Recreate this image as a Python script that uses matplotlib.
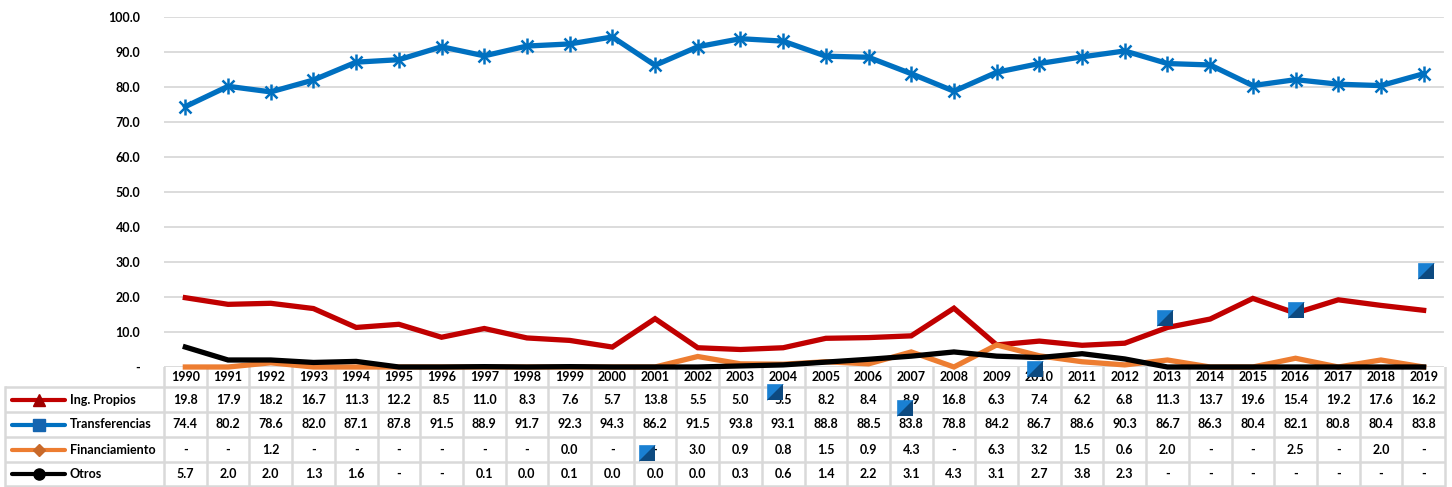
import matplotlib.pyplot as plt

plt.rcParams["font.family"] = ["Lato", "DejaVu Sans"]
plt.rcParams["font.weight"] = "bold"

years = list(range(1990, 2020))

ing_propios = [19.8, 17.9, 18.2, 16.7, 11.3, 12.2, 8.5, 11.0, 8.3, 7.6,
               5.7, 13.8, 5.5, 5.0, 5.5, 8.2, 8.4, 8.9, 16.8, 6.3,
               7.4, 6.2, 6.8, 11.3, 13.7, 19.6, 15.4, 19.2, 17.6, 16.2]
transferencias = [74.4, 80.2, 78.6, 82.0, 87.1, 87.8, 91.5, 88.9, 91.7, 92.3,
                  94.3, 86.2, 91.5, 93.8, 93.1, 88.8, 88.5, 83.8, 78.8, 84.2,
                  86.7, 88.6, 90.3, 86.7, 86.3, 80.4, 82.1, 80.8, 80.4, 83.8]
financiamiento = [None, None, 1.2, None, None, None, None, None, None, 0.0,
                  None, None, 3.0, 0.9, 0.8, 1.5, 0.9, 4.3, None, 6.3,
                  3.2, 1.5, 0.6, 2.0, None, None, 2.5, None, 2.0, None]
otros = [5.7, 2.0, 2.0, 1.3, 1.6, None, None, 0.1, 0.0, 0.1,
         0.0, 0.0, 0.0, 0.3, 0.6, 1.4, 2.2, 3.1, 4.3, 3.1,
         2.7, 3.8, 2.3, None, None, None, None, None, None, None]

series_names = ["Ing. Propios", "Transferencias", "Financiamiento", "Otros"]
series_values = [ing_propios, transferencias, financiamiento, otros]
series_colors = ["#c00000", "#0070c0", "#ed7d31", "#000000"]
legend_markers = ["^", "s", "D", "o"]
legend_marker_colors = ["#a00000", "#1565b0", "#c8692a", "#000000"]

y_ticks = [0, 10, 20, 30, 40, 50, 60, 70, 80, 90, 100]
y_tick_labels = ["-"] + [f"{v:.1f}" for v in y_ticks[1:]]

# stray square glyphs that appear in the source chart (year, value)
stray_x = [2003.8, 2006.85, 2000.8, 2009.9, 2012.95, 2016.0, 2019.05]
stray_y = [-7.1, -11.7, -24.6, -0.6, 14.0, 16.3, 27.4]

W, H = 1452, 487
plot_left, plot_right = 164, 1445
plot_top, plot_bottom = 17, 367
col_w = (plot_right - plot_left) / len(years)
grid_color = "#d9d9d9"
fs = 9

fig = plt.figure(figsize=(W / 100, H / 100), dpi=100)

# ---- table (pixel coordinates) ----
ax_t = fig.add_axes([0, 0, 1, (H - plot_bottom) / H], zorder=1)
ax_t.set_xlim(0, W)
ax_t.set_ylim(H, plot_bottom)
ax_t.axis("off")

row_edges = [387, 412, 437, 462, 486]
for y in row_edges:
    ax_t.plot([5, plot_right], [y, y], color=grid_color, lw=1.8, solid_capstyle="butt")
ax_t.plot([5, 5], [row_edges[0], row_edges[-1]], color=grid_color, lw=1.8)
for i in range(len(years) + 1):
    x = plot_left + i * col_w
    ax_t.plot([x, x], [plot_bottom, row_edges[-1]], color=grid_color, lw=1.8)

for i, yr in enumerate(years):
    cx = plot_left + (i + 0.5) * col_w
    ax_t.text(cx, 377, str(yr), ha="center", va="center", fontsize=fs)
    for r, vals in enumerate(series_values):
        v = vals[i]
        cy = (row_edges[r] + row_edges[r + 1]) / 2
        ax_t.text(cx, cy, "-" if v is None else f"{v:.1f}",
                  ha="center", va="center", fontsize=fs)

for r, name in enumerate(series_names):
    cy = (row_edges[r] + row_edges[r + 1]) / 2
    ax_t.plot([12, 65], [cy, cy], color=series_colors[r], lw=3, solid_capstyle="round")
    ax_t.plot([39], [cy], marker=legend_markers[r], color=legend_marker_colors[r],
              markersize=8 if legend_markers[r] != "D" else 6)
    ax_t.text(70, cy, name, ha="left", va="center", fontsize=fs)

# ---- line chart ----
ax = fig.add_axes([plot_left / W, 1 - plot_bottom / H,
                   (plot_right - plot_left) / W, (plot_bottom - plot_top) / H], zorder=2)
ax.patch.set_visible(False)
ax.set_xlim(1989.5, 2019.5)
ax.set_ylim(0, 100)

for y in y_ticks:
    ax.plot([1989.5, 2019.45], [y, y], color=grid_color, lw=1.3, zorder=0)

for vals, color, name in zip(series_values, series_colors, series_names):
    plot_vals = [0.0 if v is None else v for v in vals]
    ax.plot(years, plot_vals, color=color, lw=3.8, clip_on=False,
            solid_joinstyle="miter", zorder=3)
    if name == "Transferencias":
        ax.plot(years, plot_vals, ls="none", marker="x", color=color,
                markersize=9, markeredgewidth=1.8, clip_on=False, zorder=3)
        ax.plot(years, plot_vals, ls="none", marker="|", color=color,
                markersize=11, markeredgewidth=1.8, clip_on=False, zorder=3)

upper_left = [(-1, 1), (1, 1), (-1, -1)]
lower_right = [(1, 1), (1, -1), (-1, -1)]
ax.plot(stray_x, stray_y, ls="none", marker=upper_left, markersize=12,
        color="#1a80d2", markeredgewidth=0, clip_on=False, zorder=5)
ax.plot(stray_x, stray_y, ls="none", marker=lower_right, markersize=12,
        color="#0d4a80", markeredgewidth=0, clip_on=False, zorder=5)

ax.set_yticks(y_ticks)
ax.set_yticklabels(y_tick_labels, fontsize=fs, fontweight="bold")
ax.set_xticks([])
ax.tick_params(axis="y", length=0, pad=17)
for s in ax.spines.values():
    s.set_visible(False)

fig.savefig("out.png", dpi=100)
